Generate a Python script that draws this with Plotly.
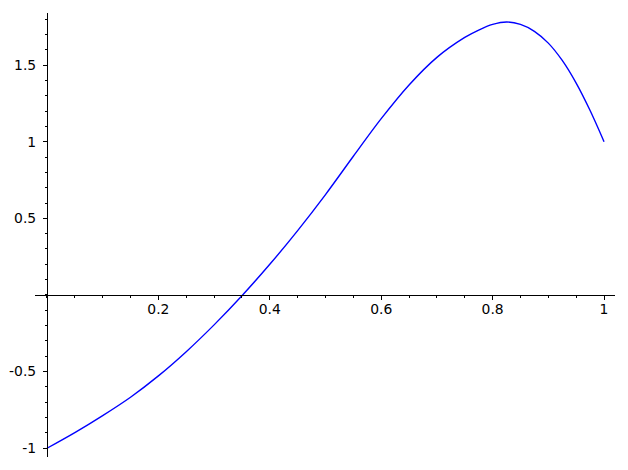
import plotly.graph_objects as go

# Curve values
x_vals = [0.0, 0.05, 0.10, 0.15, 0.20, 0.25, 0.30, 0.35, 0.40, 0.45, 0.50,
          0.55, 0.60, 0.65, 0.70, 0.75, 0.775, 0.80, 0.825, 0.85, 0.875,
          0.90, 0.925, 0.95, 0.975, 1.0]
y_vals = [-1.0, -0.898, -0.787, -0.667, -0.528, -0.37, -0.195, -0.005, 0.2, 0.42, 0.655,
          0.905, 1.15, 1.37, 1.55, 1.68, 1.728, 1.765, 1.781, 1.765, 1.72,
          1.643, 1.53, 1.382, 1.203, 1.0]

x_tickvals = [0.2, 0.4, 0.6, 0.8, 1.0]
x_ticktext = ["0.2", "0.4", "0.6", "0.8", "1"]
y_tickvals = [-1.0, -0.5, 0.5, 1.0, 1.5]
y_ticktext = ["-1", "-0.5", "0.5", "1", "1.5"]

W, H = 628, 470
# page has an 8px body offset; plot area in page px is x 35..615, y 13..457
ml, mr, mt, mb = 27, 21, 5, 21
x_range = [-0.0215, 1.0197]
y_range = [-1.057, 1.8395]

# position of the crossing axes (paper fractions)
x_axis_pos = (0 - y_range[0]) / (y_range[1] - y_range[0])
y_axis_pos = (0 - x_range[0]) / (x_range[1] - x_range[0])

fig = go.Figure()
fig.add_trace(go.Scatter(x=x_vals, y=y_vals, mode="lines",
                         line=dict(color="#0000ff", width=1.4, shape="spline", smoothing=0.9),
                         showlegend=False, hoverinfo="skip"))

font = dict(family="DejaVu Sans", size=13.9, color="black")
fig.update_layout(
    width=W, height=H,
    margin=dict(l=ml, r=mr, t=mt, b=mb),
    paper_bgcolor="white", plot_bgcolor="white",
    font=font,
    xaxis=dict(range=x_range, anchor="free", position=x_axis_pos, automargin=False,
               showline=True, linecolor="black", linewidth=1,
               showgrid=False, zeroline=False,
               tickmode="array", tickvals=x_tickvals, ticktext=x_ticktext,
               ticks="outside", ticklen=4, tickwidth=1, tickcolor="black",
               ticklabelstandoff=-3,
               minor=dict(tickmode="linear", tick0=0, dtick=0.05, ticks="outside",
                          ticklen=2, tickwidth=1, tickcolor="black"),
               tickfont=font),
    yaxis=dict(range=y_range, anchor="free", position=y_axis_pos, automargin=False,
               showline=True, linecolor="black", linewidth=1,
               showgrid=False, zeroline=False,
               tickmode="array", tickvals=y_tickvals, ticktext=y_ticktext,
               ticks="outside", ticklen=4, tickwidth=1, tickcolor="black",
               ticklabelstandoff=4,
               minor=dict(tickmode="linear", tick0=0, dtick=0.1, ticks="outside",
                          ticklen=2, tickwidth=1, tickcolor="black"),
               tickfont=font),
)

fig.write_html("out.html")
